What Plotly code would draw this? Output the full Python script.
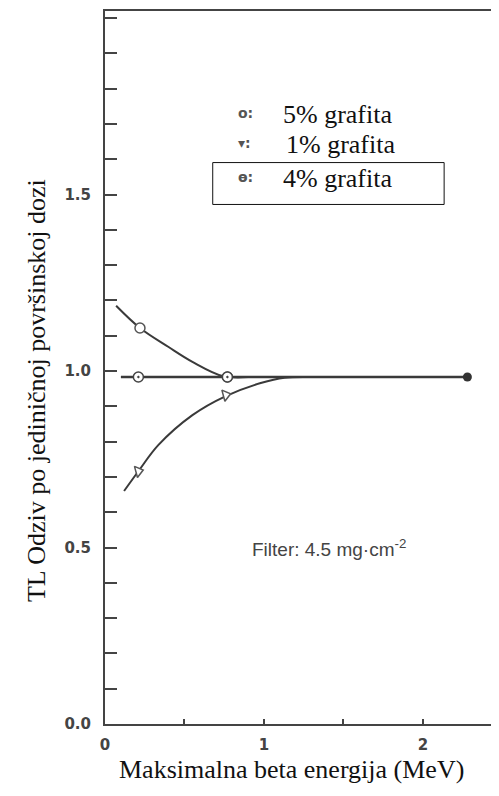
import plotly.graph_objects as go

# Curves
c5_x = [0.07, 0.22, 0.40, 0.55, 0.74, 0.90]
c5_y = [1.185, 1.122, 1.068, 1.026, 0.986, 0.983]
c1_x = [0.12, 0.21, 0.335, 0.55, 0.76, 0.98, 1.13, 1.30]
c1_y = [0.66, 0.716, 0.79, 0.875, 0.929, 0.966, 0.981, 0.983]
c4_x = [0.10, 2.28]
c4_y = [0.983, 0.983]

# Measured points
p5_x = [0.22, 0.77]
p5_y = [1.122, 0.983]
p1_x = [0.21, 0.76]
p1_y = [0.716, 0.932]
p4_x = [0.21, 0.77]
p4_y = [0.983, 0.983]
end_x = [2.28]
end_y = [0.983]

x_ticks = [0, 1, 2]
y_ticks = [0.0, 0.5, 1.0, 1.5]
y_ticklabels = ["0.0", "0.5", "1.0", "1.5"]

LC = "#3a3a3a"
fig = go.Figure()
fig.add_trace(go.Scatter(x=c5_x, y=c5_y, mode="lines", line=dict(color=LC, width=2, shape="spline")))
fig.add_trace(go.Scatter(x=c1_x, y=c1_y, mode="lines", line=dict(color=LC, width=2, shape="spline")))
fig.add_trace(go.Scatter(x=c4_x, y=c4_y, mode="lines", line=dict(color=LC, width=2.6)))
fig.add_trace(go.Scatter(x=p5_x, y=p5_y, mode="markers",
                         marker=dict(symbol="circle", size=10, color="white", line=dict(color="#555", width=1.5))))
fig.add_trace(go.Scatter(x=p4_x, y=p4_y, mode="markers",
                         marker=dict(symbol="circle-dot", size=10, color="white", line=dict(color="#444", width=1.5))))
fig.add_trace(go.Scatter(x=p1_x, y=p1_y, mode="markers",
                         marker=dict(symbol="triangle-right", size=10, color="white", angle=-15,
                                     line=dict(color="#555", width=1.5))))
fig.add_trace(go.Scatter(x=end_x, y=end_y, mode="markers",
                         marker=dict(symbol="circle", size=9, color="#333", line=dict(width=0))))

serif = "Liberation Serif"
def px_x(p):
    return (p - 105) / 392.0
def px_y(p):
    return (724 - p) / 715.0

ann = []
labels = ["5% grafita", "1% grafita", "4% grafita"]
symbols = ["o:", "▾:", "ɵ:"]
ys = [113, 143, 177]
lx = [281, 284, 281]
for lab, sym, yy, xx in zip(labels, symbols, ys, lx):
    ann.append(dict(x=px_x(xx), y=px_y(yy), xref="paper", yref="paper", text=lab, showarrow=False,
                    xanchor="left", yanchor="middle", font=dict(family=serif, size=26, color="#111")))
    ann.append(dict(x=px_x(236), y=px_y(yy - 2), xref="paper", yref="paper", text=sym, showarrow=False,
                    xanchor="left", yanchor="middle", font=dict(family="DejaVu Sans", size=14, color="#555", weight=700)))
ann.append(dict(x=px_x(250), y=px_y(548), xref="paper", yref="paper",
                text="Filter: 4.5 mg·cm<sup>-2</sup>", showarrow=False, xanchor="left", yanchor="middle",
                font=dict(family="Liberation Sans", size=19, color="#444")))
ann.append(dict(x=px_x(292), y=px_y(770), xref="paper", yref="paper",
                text="Maksimalna beta energija (MeV)", showarrow=False, xanchor="center", yanchor="middle",
                font=dict(family=serif, size=26, color="#111")))
ann.append(dict(x=px_x(37), y=px_y(390), xref="paper", yref="paper", textangle=-90,
                text="TL Odziv po jediničnoj površinskoj dozi", showarrow=False, xanchor="center", yanchor="middle",
                font=dict(family=serif, size=26, color="#111")))

fig.update_layout(
    width=491, height=780,
    margin=dict(l=97, r=2, t=1, b=64),
    paper_bgcolor="white", plot_bgcolor="white",
    showlegend=False,
    annotations=ann,
    shapes=[dict(type="rect", xref="paper", yref="paper", x0=px_x(213), x1=px_x(445),
                 y0=px_y(203), y1=px_y(161), line=dict(color="#111", width=1))],
    xaxis=dict(range=[0, 2.46], showgrid=False, zeroline=False, showline=True, linecolor="#444", linewidth=2,
               mirror=True, ticks="inside", ticklen=5, tickwidth=1.5, tickcolor="#444",
               tickvals=x_ticks, ticktext=[str(v) for v in x_ticks],
               minor=dict(dtick=0.5, ticks="inside", ticklen=5, tickwidth=1.5, tickcolor="#444"),
               tickfont=dict(family="DejaVu Sans", size=15, color="#444", weight=700),
               ticklabelstandoff=6),
    yaxis=dict(range=[0, 2.02], showgrid=False, zeroline=False, showline=True, linecolor="#444", linewidth=2,
               mirror=True, ticks="inside", ticklen=12, tickwidth=1.5, tickcolor="#444",
               tickvals=y_ticks, ticktext=y_ticklabels,
               minor=dict(dtick=0.1, ticks="inside", ticklen=12, tickwidth=1.5, tickcolor="#444"),
               tickfont=dict(family="DejaVu Sans", size=15, color="#444", weight=700),
               ticklabelstandoff=9),
)

fig.write_html("out.html")
